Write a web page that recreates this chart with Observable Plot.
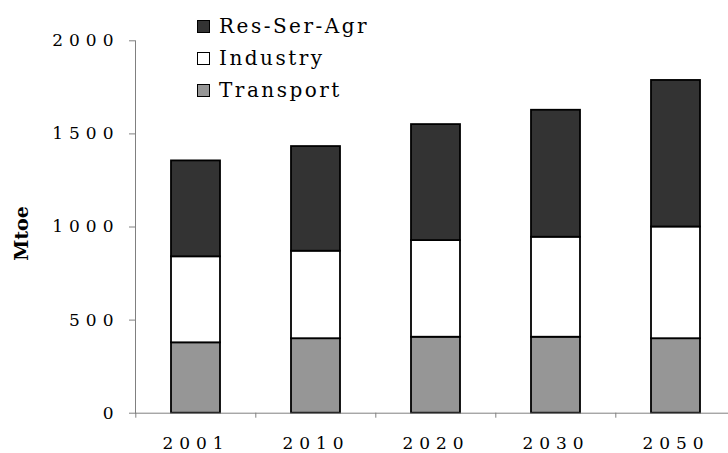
<!DOCTYPE html>
<html><head><meta charset="utf-8">
<script src="https://cdn.jsdelivr.net/npm/d3@7"></script>
<script src="https://cdn.jsdelivr.net/npm/@observablehq/plot@0.6"></script>
<style>
html,body{margin:0;padding:0;background:#fff;overflow:hidden}
#wrap{position:relative;width:728px;height:453px}
.legend{position:absolute;left:197px;top:0;font-family:"DejaVu Serif";font-size:20px;letter-spacing:2.5px;color:#000}
.legend .row{position:absolute;left:0;height:32px;display:flex;align-items:center;white-space:nowrap}
.legend .sw{width:11px;height:11px;border:1.5px solid #000;margin-right:9px;box-sizing:content-box}
g[aria-label="y-axis tick label"] text, g[aria-label="x-axis tick label"] text{letter-spacing:6px}
</style></head>
<body>
<div id="wrap"></div>
<script>
const years = ["2001","2010","2020","2030","2050"];
const transport = [378,400,408,408,400];
const industry = [462,470,519,537,600];
const resSerAgr = [515,562,623,682,787];
const series = ["Transport","Industry","Res-Ser-Agr"];
const colors = ["#969696","#ffffff","#333333"];
const legendOrder = ["Res-Ser-Agr","Industry","Transport"];
const yTicks = [0,500,1000,1500,2000];
const yLabel = "Mtoe";

const data = [];
[transport, industry, resSerAgr].forEach((vals, s) =>
  years.forEach((yr, i) => data.push({year: yr, series: series[s], value: vals[i]})));

const xRange = [135, 737];
const step = (xRange[1] - xRange[0]) / years.length;

const plot = Plot.plot({
  width: 728, height: 453,
  marginLeft: 135, marginRight: 0, marginTop: 40.3, marginBottom: 40.3,
  style: {fontFamily: "DejaVu Serif", fontSize: "17px", color: "#000", background: "#fff", overflow: "visible"},
  x: {domain: years, range: xRange, paddingInner: 0.59, paddingOuter: 0.295, axis: null, label: null},
  y: {domain: [0, 2000], axis: null, label: null},
  color: {domain: series, range: colors},
  marks: [
    Plot.barY(data, {x: "year", y: "value", fill: "series", stroke: "#000", strokeWidth: 1.8}),
    Plot.ruleY([0], {stroke: "#808080"}),
    Plot.frame({anchor: "left", stroke: "#808080"}),
    Plot.axisY({ticks: yTicks, tickSize: 6, tickPadding: 10, tickFormat: d => String(d), stroke: "#808080", fill: "#000", fontSize: 17, label: null}),
    Plot.axisX({tickSize: 5, dx: -step / 2, tickFormat: () => "", stroke: "#808080", label: null}),
    Plot.axisX({tickSize: 0, tickPadding: 24, fill: "#000", fontSize: 17, label: null}),
    Plot.text([yLabel], {text: d => d, frameAnchor: "left", textAnchor: "middle", rotate: -90, dx: -114, dy: 6.5, fontWeight: "bold", fontSize: 19, fontFamily: "DejaVu Serif", lineAnchor: "middle", fill: "#000"})
  ]
});
const wrap = document.getElementById("wrap");
wrap.appendChild(plot);

const legend = document.createElement("div");
legend.className = "legend";
legendOrder.forEach((name, i) => {
  const row = document.createElement("div");
  row.className = "row";
  row.style.top = (10 + i * 32) + "px";
  const sw = document.createElement("span");
  sw.className = "sw";
  sw.style.background = colors[series.indexOf(name)];
  const t = document.createElement("span");
  t.textContent = name;
  row.appendChild(sw); row.appendChild(t);
  legend.appendChild(row);
});
wrap.appendChild(legend);
</script>
</body></html>
